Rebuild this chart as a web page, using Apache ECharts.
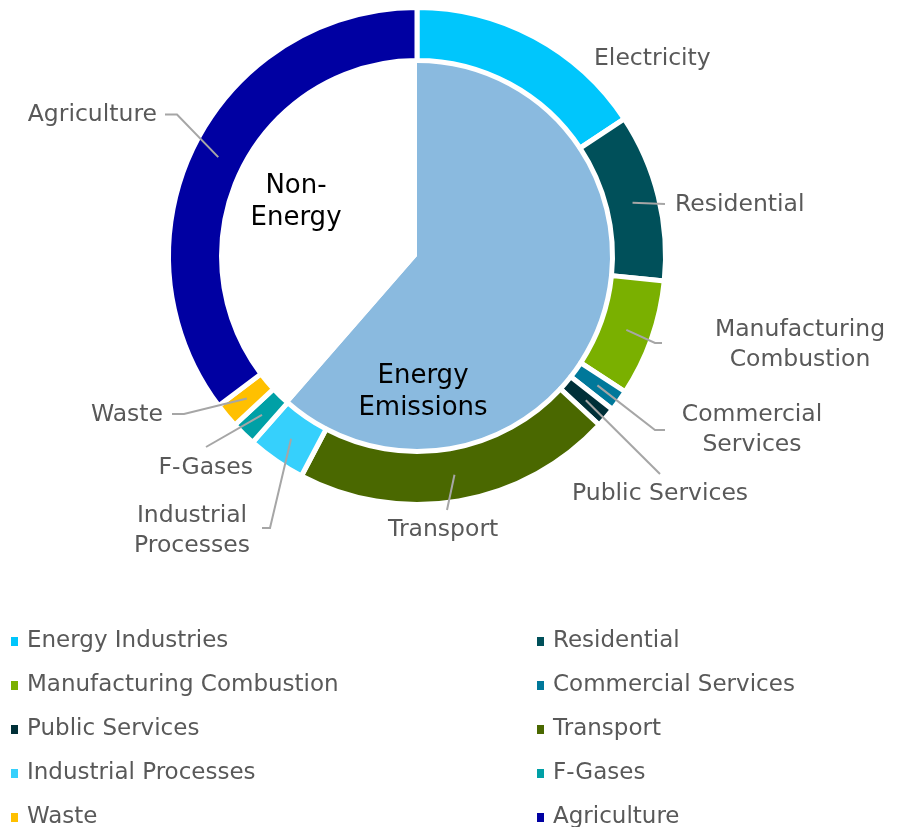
<!DOCTYPE html>
<html><head><meta charset="utf-8">
<script src="https://cdn.jsdelivr.net/npm/echarts@6/dist/echarts.min.js"></script>
<style>html,body{margin:0;padding:0;background:#fff}#c{width:912px;height:827px}</style>
</head><body><div id="c"></div>
<script>
// ---- data ----
const categories = ['Energy Industries','Residential','Manufacturing Combustion','Commercial Services','Public Services','Transport','Industrial Processes','F-Gases','Waste','Agriculture'];
const shares = [15.7, 10.9, 7.6, 1.4, 1.3, 20.8, 3.8, 1.6, 1.6, 35.3];
const sliceLabels = ['Electricity','Residential','Manufacturing\nCombustion','Commercial\nServices','Public Services','Transport','Industrial\nProcesses','F-Gases','Waste','Agriculture'];
const groups = ['Energy Emissions','Non-Energy'];
const groupShares = [61.4, 38.6];
const groupLabels = ['Energy\nEmissions','Non-\nEnergy'];

// ---- styles / label placement ----
const sliceColors = ['#00C6FC','#00505A','#7AB000','#00789A','#003038','#4A6800','#36D0FC','#00A0A6','#FFC000','#0000A2'];
const groupColors = ['#8ABADF','#FFFFFF'];
const labelPlace = [
  {x:594, y:59,  align:'left'},
  {x:675, y:205, align:'left'},
  {x:800, y:345, align:'center'},
  {x:752, y:430, align:'center'},
  {x:572, y:494, align:'left'},
  {x:388, y:530, align:'left'},
  {x:192, y:531, align:'center'},
  {x:253, y:468, align:'right'},
  {x:163, y:415, align:'right'},
  {x:157, y:115, align:'right'}
];
const lineTails = [
  null,
  [[665,204]],
  [[655,343],[662,343]],
  [[655,430],[665,430]],
  [[660,474]],
  [[447,510]],
  [[270,528],[262,528]],
  [[206,447]],
  [[184,414],[172,414]],
  [[177,114.5],[165,114.5]]
];
const groupPlace = [{x:423, y:392}, {x:296, y:202}];
const FONT = 'DejaVu Sans';
const CENTER = [417, 256];
const RING = [195.5, 248.5];
const LINE_START_R = 222;

// mid-angle (clockwise from 12 o'clock) of each slice, derived from the shares
const total = shares.reduce((a, b) => a + b, 0);
const midAngles = [];
shares.reduce((acc, v) => { midAngles.push((acc + v / 2) / total * 2 * Math.PI); return acc + v; }, 0);

const chart = echarts.init(document.getElementById('c'), null, {renderer:'canvas'});
const legendBase = {
  orient:'vertical', top:630, height:230, padding:0, icon:'rect', itemWidth:9, itemHeight:11, itemGap:21,
  selectedMode:false,
  textStyle:{fontSize:23, color:'#595959', fontFamily:FONT, lineHeight:22, padding:[0,0,0,3]}
};
chart.setOption({
  animation:false,
  backgroundColor:'#ffffff',
  legend:[
    Object.assign({left:9, data:categories.filter((_, i) => i % 2 === 0)}, legendBase),
    Object.assign({left:535, data:categories.filter((_, i) => i % 2 === 1)}, legendBase)
  ],
  series:[
    {
      type:'pie', name:'Groups', z:1, center:CENTER, radius:[0, 194], startAngle:90, clockwise:true,
      silent:true, avoidLabelOverlap:false,
      itemStyle:{borderWidth:0},
      label:{show:true, position:'inside', color:'#000000', fontSize:26, lineHeight:32, fontFamily:FONT,
        formatter:p => groupLabels[p.dataIndex]},
      labelLine:{show:false},
      labelLayout:p => { const q = groupPlace[p.dataIndex]; return {x:q.x, y:q.y, align:'center', verticalAlign:'middle'}; },
      data:groups.map((n, i) => ({name:n, value:groupShares[i], itemStyle:{color:groupColors[i]}}))
    },
    {
      type:'pie', name:'Sectors', z:2, center:CENTER, radius:RING, startAngle:90, clockwise:true,
      silent:true, avoidLabelOverlap:false,
      itemStyle:{borderColor:'#ffffff', borderWidth:5},
      label:{show:false}, labelLine:{show:false},
      data:categories.map((n, i) => ({name:n, value:shares[i], itemStyle:{color:sliceColors[i]}}))
    },
    {
      // same sectors, transparent, carrying the labels so the leader lines sit above the ring
      type:'pie', name:'Sector labels', z:3, center:CENTER, radius:RING, startAngle:90, clockwise:true,
      silent:true, avoidLabelOverlap:false, legendHoverLink:false,
      itemStyle:{color:'rgba(0,0,0,0)', borderWidth:0},
      label:{show:true, position:'outside', color:'#595959', fontSize:23.5, lineHeight:30, fontFamily:FONT,
        formatter:p => sliceLabels[p.dataIndex]},
      labelLine:{show:true, length:10, length2:8, lineStyle:{color:'#A6A6A6', width:2}},
      labelLayout:p => {
        const q = labelPlace[p.dataIndex];
        const out = {x:q.x, y:q.y, align:q.align, verticalAlign:'middle'};
        const tail = lineTails[p.dataIndex];
        if (tail) {
          const t = midAngles[p.dataIndex];
          const start = [CENTER[0] + Math.sin(t) * LINE_START_R, CENTER[1] - Math.cos(t) * LINE_START_R];
          out.labelLinePoints = [start].concat(tail);
        }
        return out;
      },
      data:categories.map((n, i) => ({
        name:n, value:shares[i],
        labelLine: i === 0 ? {show:false} : undefined
      }))
    }
  ]
});
</script>
</body></html>
